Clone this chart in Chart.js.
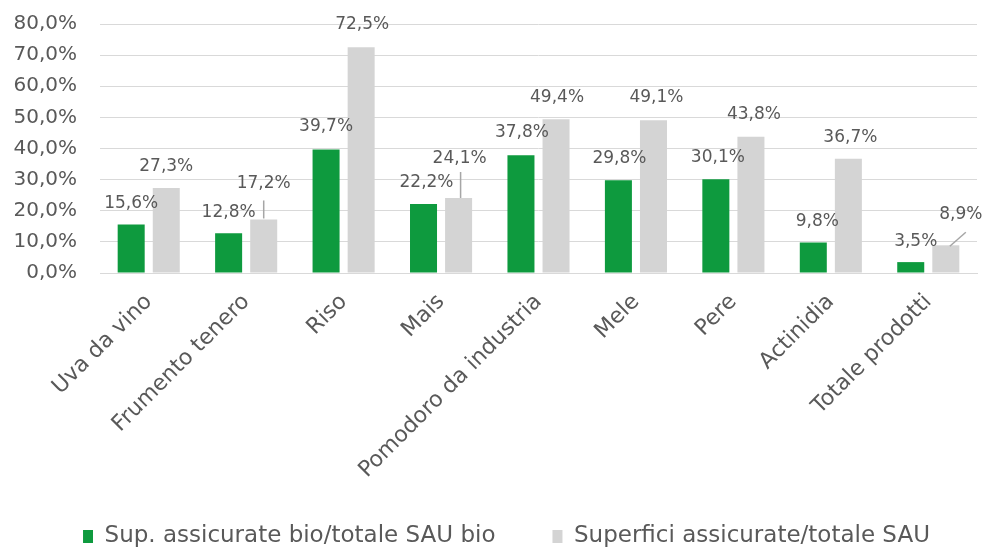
<!DOCTYPE html>
<html>
<head>
<meta charset="utf-8">
<script src="https://cdn.jsdelivr.net/npm/chart.js@4.4.1/dist/chart.umd.min.js"></script>
<style>
  body { margin: 0; background: #fff; }
  canvas { display: block; }
</style>
</head>
<body>
<canvas id="chart" width="994" height="551"></canvas>
<script>
const categories = ['Uva da vino', 'Frumento tenero', 'Riso', 'Mais', 'Pomodoro da industria', 'Mele', 'Pere', 'Actinidia', 'Totale prodotti'];
const bioShare = [15.6, 12.8, 39.7, 22.2, 37.8, 29.8, 30.1, 9.8, 3.5];
const totalShare = [27.3, 17.2, 72.5, 24.1, 49.4, 49.1, 43.8, 36.7, 8.9];
const seriesNames = ['Sup. assicurate bio/totale SAU bio', 'Superfici assicurate/totale SAU'];
const yMin = 0, yMax = 80, yStep = 10;

// label nudges [dx, dy] relative to the default spot above each bar
const bioNudge = [[0, 0], [0, 0], [0, -2], [3, 0], [1, -2], [1, -1], [2, -1], [4, 0], [5, 0]];
const totalNudge = [[0, 0], [0, -15], [1, -2], [1, -18], [1, -1], [3, -2], [3, -1], [2, 0], [15, -10]];
// leader lines for the moved labels: dataset, index, [x0, y0, x1, y1] relative to bar top
const leaders = [
  [1, 1, [0, -1, 0, -19]],
  [1, 3, [2, 0, 2, -26]],
  [1, 8, [4, 1, 20, -13]]
];

const textColor = '#595959';
const fontFamily = '"DejaVu Sans", sans-serif';

const pct = v => v.toFixed(1).replace('.', ',') + '%';

const barLabels = {
  id: 'barLabels',
  afterLayout(chart) {
    // place the legend a little lower and more to the right, as in the original
    const lg = chart.legend;
    lg.top += 7; lg.bottom += 7;
    lg.left += 18; lg.right += 18;
    // let the long rotated category names run past the axis box
    chart.scales.x.bottom = chart.height;
  },
  afterDatasetsDraw(chart) {
    const ctx = chart.ctx;
    ctx.save();
    ctx.strokeStyle = '#a6a6a6';
    ctx.lineWidth = 1.5;
    leaders.forEach(([ds, i, p]) => {
      const bar = chart.getDatasetMeta(ds).data[i];
      ctx.beginPath();
      ctx.moveTo(bar.x + p[0], bar.y + p[1]);
      ctx.lineTo(bar.x + p[2], bar.y + p[3]);
      ctx.stroke();
    });
    ctx.fillStyle = textColor;
    ctx.font = '17px ' + fontFamily;
    ctx.textAlign = 'center';
    ctx.textBaseline = 'middle';
    chart.data.datasets.forEach((dataset, ds) => {
      const nudge = ds === 0 ? bioNudge : totalNudge;
      chart.getDatasetMeta(ds).data.forEach((bar, i) => {
        ctx.fillText(pct(dataset.data[i]), bar.x + nudge[i][0], bar.y - 21 + nudge[i][1]);
      });
    });
    ctx.restore();
  }
};

new Chart(document.getElementById('chart'), {
  type: 'bar',
  data: {
    labels: categories,
    datasets: [
      { label: seriesNames[0], data: bioShare, backgroundColor: '#0e9a3e' },
      { label: seriesNames[1], data: totalShare, backgroundColor: '#d4d4d4' }
    ]
  },
  options: {
    responsive: false,
    animation: false,
    layout: { padding: { top: 24, right: 17, left: 0, bottom: 0 } },
    datasets: { bar: { categoryPercentage: 0.72, barPercentage: 0.77 } },
    plugins: {
      legend: {
        position: 'bottom',
        labels: {
          color: textColor,
          font: { family: fontFamily, size: 23 },
          boxWidth: 10,
          boxHeight: 13,
          padding: 57
        }
      },
      tooltip: { enabled: false }
    },
    scales: {
      x: {
        grid: { display: false },
        border: { color: '#d9d9d9' },
        ticks: {
          color: textColor,
          font: { family: fontFamily, size: 22 },
          minRotation: 45,
          maxRotation: 45,
          padding: 8
        },
        afterFit(scale) { scale.height = 188; }
      },
      y: {
        min: yMin,
        max: yMax,
        border: { display: false },
        grid: { color: '#d9d9d9', drawTicks: true, tickLength: 23, tickColor: 'rgba(0,0,0,0)' },
        ticks: {
          stepSize: yStep,
          color: textColor,
          font: { family: fontFamily, size: 20 },
          padding: 0,
          callback: v => pct(v)
        },
        afterFit(scale) { scale.width = 100; }
      }
    }
  },
  plugins: [barLabels]
});
</script>
</body>
</html>
